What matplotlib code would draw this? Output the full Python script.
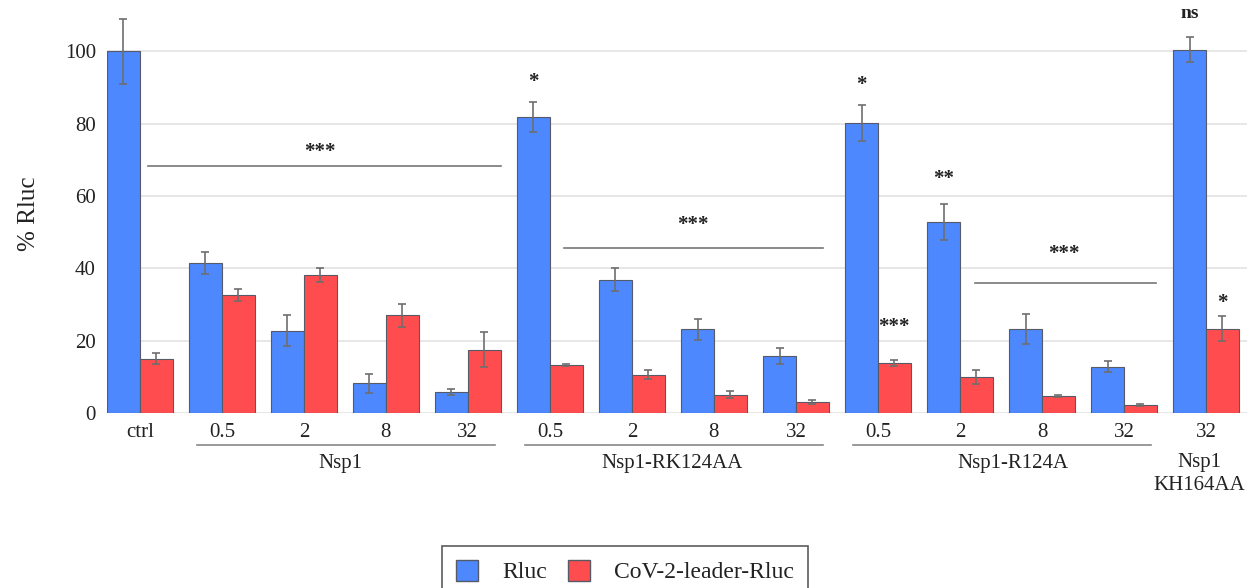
import matplotlib
matplotlib.use("Agg")
import matplotlib.pyplot as plt
import numpy as np
from matplotlib.patches import Patch

plt.rcParams['font.family'] = ['Liberation Serif', 'DejaVu Serif']

tick_labels = ["ctrl", "0.5", "2", "8", "32", "0.5", "2", "8", "32",
               "0.5", "2", "8", "32", "32"]
rluc = [100, 41.5, 22.7, 8.2, 5.8, 81.8, 36.8, 23.1, 15.7, 80.2, 52.8, 23.3, 12.8, 100.4]
rluc_err = [9, 3.1, 4.3, 2.6, 0.7, 4.1, 3.2, 3.0, 2.2, 4.9, 5.0, 4.1, 1.6, 3.4]
leader = [15.0, 32.7, 38.1, 27.0, 17.5, 13.3, 10.6, 5.1, 3.1, 13.9, 9.9, 4.6, 2.2, 23.3]
leader_err = [1.5, 1.7, 2.0, 3.1, 4.9, 0.2, 1.3, 1.0, 0.5, 0.8, 1.9, 0.3, 0.2, 3.5]
groups = ["Nsp1", "Nsp1-RK124AA", "Nsp1-R124A"]
group_spans = [(1, 4), (5, 8), (9, 12)]
series_names = ["Rluc", "CoV-2-leader-Rluc"]

BLUE = "#4d88ff"
RED = "#ff4d4f"
EDGE = "#555a66"
ERRC = "#6e6e6e"
TXT = "#222222"

fig = plt.figure(figsize=(12.52, 5.88), dpi=100)
ax = fig.add_axes([107/1252, 1-413/588, (1247-107)/1252, (413-15)/588])

x = np.arange(len(tick_labels))
w = 0.4
ax.bar(x - w/2, rluc, w, color=BLUE, edgecolor=EDGE, linewidth=0.8, zorder=2)
ax.bar(x + w/2, leader, w, color=RED, edgecolor=EDGE, linewidth=0.8, zorder=2)
ax.errorbar(x - w/2, rluc, yerr=rluc_err, fmt='none', ecolor=ERRC, elinewidth=1.2,
            capsize=3.2, capthick=1.2, zorder=3)
ax.errorbar(x + w/2, leader, yerr=leader_err, fmt='none', ecolor=ERRC, elinewidth=1.2,
            capsize=3.2, capthick=1.2, zorder=3)

ax.set_xlim(-0.4, 13.5)
ax.set_ylim(0, 110)
ax.set_yticks([0, 20, 40, 60, 80, 100])
ax.grid(axis='y', color='#e3e3e3', linewidth=1.2, zorder=0)
ax.set_axisbelow(True)
for s in ax.spines.values():
    s.set_visible(False)
ax.set_xticks(x)
ax.set_xticklabels(tick_labels)
ax.tick_params(axis='both', length=0, labelsize=15, colors=TXT)
ax.tick_params(axis='x', pad=7)
ax.tick_params(axis='y', pad=8)
ax.set_ylabel("% Rluc", fontsize=18, color=TXT, labelpad=18)

# group lines and labels
label_shift = [-0.06, -0.01, 0.15]
for name, (a, b), dx in zip(groups, group_spans, label_shift):
    ax.plot([a - 0.3, b + 0.33], [-0.0804, -0.0804], transform=ax.get_xaxis_transform(),
            color='#888888', linewidth=1.2, clip_on=False)
    ax.text((a + b) / 2 + dx, -0.126, name, transform=ax.get_xaxis_transform(),
            ha='center', va='center', fontsize=15, color=TXT)
ax.text(13 - 0.08, -0.124, "Nsp1", transform=ax.get_xaxis_transform(),
        ha='center', va='center', fontsize=15, color=TXT)
ax.text(13 - 0.08, -0.183, "KH164AA", transform=ax.get_xaxis_transform(),
        ha='center', va='center', fontsize=15, color=TXT)

# significance brackets
def sig_line(x0, x1, y):
    ax.plot([x0, x1], [y, y], color='#777777', linewidth=1.2, zorder=3)

sig_line(0.1, 4.4, 68.2)
ax.text(2.2, 72.0, "***", ha='center', va='center', fontsize=15,
        fontweight='bold', color=TXT)
sig_line(5.17, 8.33, 45.6)
ax.text(6.74, 52.0, "***", ha='center', va='center', fontsize=15,
        fontweight='bold', color=TXT)
sig_line(10.18, 12.39, 35.9)
ax.text(11.27, 44.0, "***", ha='center', va='center', fontsize=15,
        fontweight='bold', color=TXT)

stars = [(5 - w/2, 91.5, "*"), (9 - w/2, 90.7, "*"), (10 - w/2, 64.7, "**"),
         (9 + w/2, 23.7, "***"), (13 + w/2, 30.4, "*")]
for sx, sy, st in stars:
    ax.text(sx, sy, st, ha='center', va='center', fontsize=15,
            fontweight='bold', color=TXT)
ax.text(13 - w/2, 110.5, "ns", ha='center', va='center', fontsize=14,
        fontweight='bold', color=TXT, clip_on=False)

handles = [Patch(facecolor=BLUE, edgecolor=EDGE, linewidth=1),
           Patch(facecolor=RED, edgecolor=EDGE, linewidth=1)]
leg = fig.legend(handles, series_names, loc='upper center',
                 bbox_to_anchor=(625/1252, 1-546/588), ncol=2, fontsize=17,
                 frameon=True, fancybox=False, edgecolor='#333333',
                 handlelength=0.95, handleheight=0.95, handletextpad=1.0,
                 columnspacing=0.9, borderpad=0.6, borderaxespad=0)
leg.get_frame().set_linewidth(1.2)
for t in leg.get_texts():
    t.set_color(TXT)

fig.savefig("out.png", dpi=100)
